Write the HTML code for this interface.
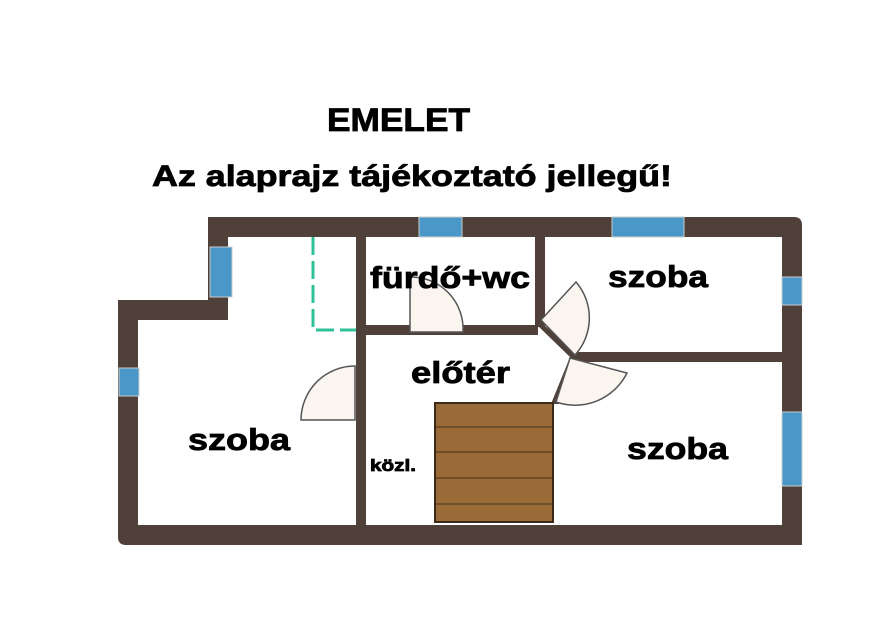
<!DOCTYPE html>
<html><head><meta charset="utf-8"><style>
body{margin:0;width:880px;height:620px;background:#fff;overflow:hidden}
svg{display:block}
text{font-family:"Liberation Sans",sans-serif;font-weight:bold;fill:#000;stroke:#000;stroke-width:0.8}
</style></head><body>
<svg width="880" height="620" viewBox="0 0 880 620">
<text x="327" y="131" font-size="32" textLength="143" lengthAdjust="spacingAndGlyphs">EMELET</text>
<text x="152" y="186" font-size="30" textLength="520" lengthAdjust="spacingAndGlyphs">Az alaprajz tájékoztató jellegű!</text>
<g fill="#4f4039">
<path d="M208 217 H794 Q802 217 802 225 V545 H126 Q118 545 118 537 V300 H208 Z M228 237 V320 H138 V525 H782 V237 Z" fill-rule="evenodd"/>
<rect x="356" y="237" width="10" height="288"/>
<rect x="535" y="237" width="10" height="90"/>
<rect x="366" y="325" width="172" height="10"/>
<rect x="572" y="352" width="210" height="10"/>
<polygon points="537,325 544,325 578,354 559,404 551,404 570,357"/>
</g>
<g fill="#4a97c8" stroke="#ccc" stroke-width="1">
<rect x="419" y="217" width="43" height="20"/>
<rect x="612" y="217" width="72" height="20"/>
<rect x="210" y="247" width="22" height="50"/>
<rect x="119" y="368" width="20" height="28"/>
<rect x="782" y="277" width="20" height="28"/>
<rect x="782" y="412" width="20" height="74"/>
</g>
<g stroke="#2fc29a" stroke-width="3" fill="none" stroke-dasharray="18,6">
<path d="M313 237 V330 H356"/>
</g>
<rect x="435" y="403" width="118" height="119" fill="#9a6b37" stroke="#3a2a1a" stroke-width="2"/>
<g stroke="#6e4e2a" stroke-width="2">
<line x1="436" y1="427" x2="552" y2="427"/><line x1="436" y1="452" x2="552" y2="452"/>
<line x1="436" y1="478" x2="552" y2="478"/><line x1="436" y1="504" x2="552" y2="504"/>
</g>
<g fill="#fbf5ef" stroke="#555" stroke-width="1.5">
<path d="M355 420 L355 366 A54 54 0 0 0 301 420 Z"/>
<path d="M410 332 L410 277 A52 52 0 0 1 463 332 Z"/>
<path d="M541 320 L575 355 A55 55 0 0 0 576 282 Z"/>
<path d="M570 358 L556 402 A58 58 0 0 0 627 373 Z"/>
</g>
<text x="370" y="288" font-size="31" textLength="160" lengthAdjust="spacingAndGlyphs">fürdő+wc</text>
<text x="608" y="287" font-size="31" textLength="100" lengthAdjust="spacingAndGlyphs">szoba</text>
<text x="411" y="383" font-size="31" textLength="99" lengthAdjust="spacingAndGlyphs">előtér</text>
<text x="188" y="450" font-size="31" textLength="102" lengthAdjust="spacingAndGlyphs">szoba</text>
<text x="370" y="471" font-size="17" textLength="46" lengthAdjust="spacingAndGlyphs">közl.</text>
<text x="627" y="459" font-size="31" textLength="101" lengthAdjust="spacingAndGlyphs">szoba</text>
</svg>
</body></html>
